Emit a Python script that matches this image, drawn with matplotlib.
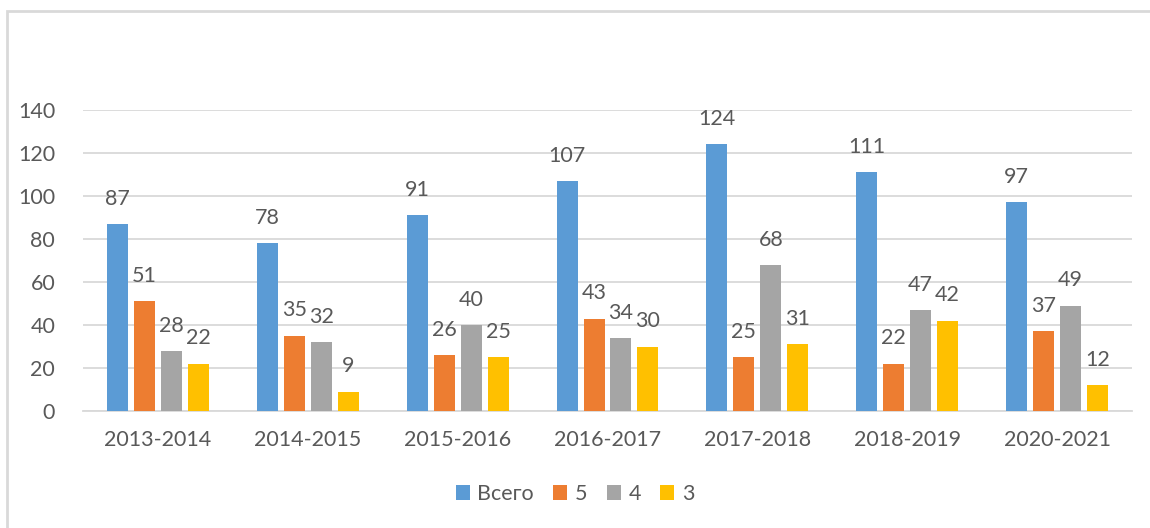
import numpy as np
import matplotlib.pyplot as plt
from matplotlib.patches import Rectangle

years = ["2013-2014", "2014-2015", "2015-2016", "2016-2017",
         "2017-2018", "2018-2019", "2020-2021"]
series_names = ["Всего", "5", "4", "3"]
total = [87, 78, 91, 107, 124, 111, 97]
grade5 = [51, 35, 26, 43, 25, 22, 37]
grade4 = [28, 32, 40, 34, 68, 47, 49]
grade3 = [22, 9, 25, 30, 31, 42, 12]
colors = ["#5B9BD5", "#ED7D31", "#A5A5A5", "#FFC000"]

plt.rcParams["font.family"] = ["Lato", "DejaVu Sans"]
text_color = "#595959"
grid_color = "#D9D9D9"

fig = plt.figure(figsize=(11.5, 5.28), dpi=100)
ax = fig.add_axes([83 / 1150, 1 - 411 / 528, (1132 - 83) / 1150, (411 - 110) / 528])

x = np.arange(len(years))
width = 0.14
step = 0.18
offsets = (np.arange(4) - 1.5) * step

for values, name, color, off in zip([total, grade5, grade4, grade3], series_names, colors, offsets):
    bars = ax.bar(x + off, values, width, color=color, label=name, zorder=3)
    ax.bar_label(bars, padding=11, fontsize=15.5, color=text_color)

ax.set_xlim(-0.5, len(years) - 0.5)
ax.set_ylim(0, 140)
ax.set_yticks(range(0, 141, 20))
ax.set_xticks(x)
ax.set_xticklabels(years)
ax.yaxis.grid(True, color=grid_color, linewidth=1.3, zorder=0)
for side in ["top", "right", "left"]:
    ax.spines[side].set_visible(False)
ax.spines["bottom"].set_color(grid_color)
ax.spines["bottom"].set_linewidth(1.3)
ax.tick_params(axis="both", length=0, labelsize=15.5, labelcolor=text_color)
ax.tick_params(axis="y", pad=20)
ax.tick_params(axis="x", pad=14)

ax.legend(loc="center", bbox_to_anchor=(0.5, 1 - 494 / 528), bbox_transform=fig.transFigure,
          ncol=4, frameon=False, fontsize=15.5, labelcolor=text_color,
          handlelength=0.65, handleheight=0.65, handletextpad=0.35, columnspacing=0.9)

fig.patches.append(Rectangle((7 / 1150, -0.1), 1.1, 1.1 - 11 / 528,
                             transform=fig.transFigure, fill=False,
                             edgecolor=grid_color, linewidth=2, figure=fig))

fig.savefig("out.png", dpi=100, facecolor="white")
